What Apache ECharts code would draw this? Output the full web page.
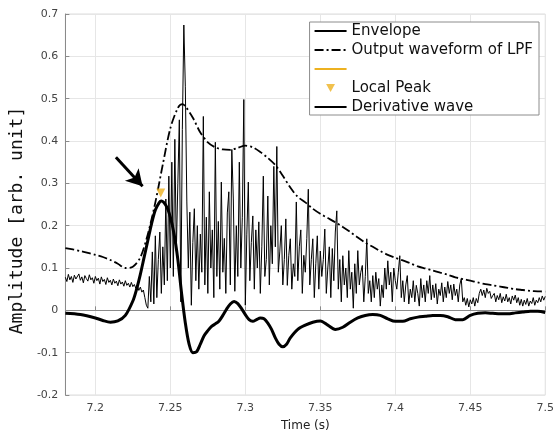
<!DOCTYPE html>
<html>
<head>
<meta charset="UTF-8">
<script src="https://cdn.jsdelivr.net/npm/echarts@6/dist/echarts.min.js"></script>
<style>
  html, body { margin: 0; padding: 0; background: #fff; }
  #chart { width: 557px; height: 437px; }
</style>
</head>
<body>
<div id="chart"></div>
<script>
// envelope: sampled every 1 ms starting at 7.180 s
var envStart = 7.18;
var envStep = 0.001;
var envValues = [
  0.078, 0.068, 0.085, 0.072, 0.080, 0.066, 0.083, 0.074, 0.070, 0.086,
  0.071, 0.079, 0.065, 0.082, 0.075, 0.069, 0.084, 0.072, 0.077, 0.064,
  0.080, 0.070, 0.076, 0.062, 0.079, 0.068, 0.073, 0.061, 0.077, 0.066,
  0.071, 0.060, 0.074, 0.064, 0.069, 0.058, 0.072, 0.062, 0.067, 0.057,
  0.070, 0.059, 0.064, 0.055, 0.066, 0.056, 0.061, 0.052, 0.058, 0.047,
  0.055, 0.043, 0.048, 0.030, 0.012, 0.005, 0.080, 0.020, 0.138, 0.015,
  0.176, 0.030, 0.120, 0.185, 0.040, 0.150, 0.060, 0.263, 0.070, 0.317,
  0.100, 0.350, 0.080, 0.404, 0.140, 0.300, 0.450, 0.020, 0.427, 0.674,
  0.528, 0.256, 0.100, 0.232, 0.012, 0.160, 0.240, 0.070, 0.200, 0.050,
  0.180, 0.090, 0.458, 0.060, 0.220, 0.040, 0.280, 0.100, 0.190, 0.030,
  0.397, 0.080, 0.210, 0.050, 0.303, 0.090, 0.170, 0.040, 0.230, 0.280,
  0.060, 0.380, 0.263, 0.045, 0.200, 0.080, 0.350, 0.100, 0.220, 0.498,
  0.012, 0.180, 0.303, 0.070, 0.160, 0.223, 0.050, 0.190, 0.100, 0.209,
  0.040, 0.150, 0.317, 0.080, 0.120, 0.270, 0.060, 0.200, 0.110, 0.340,
  0.150, 0.387, 0.090, 0.140, 0.200, 0.060, 0.120, 0.216, 0.059, 0.130,
  0.169, 0.050, 0.110, 0.080, 0.256, 0.070, 0.150, 0.190, 0.040, 0.130,
  0.090, 0.170, 0.286, 0.060, 0.120, 0.169, 0.030, 0.110, 0.176, 0.050,
  0.140, 0.080, 0.120, 0.192, 0.040, 0.100, 0.150, 0.030, 0.146, 0.070,
  0.185, 0.235, 0.050, 0.120, 0.020, 0.129, 0.060, 0.100, 0.030, 0.141,
  0.050, 0.090, 0.005, 0.110, 0.040, 0.141, 0.060, 0.090, 0.106, 0.020,
  0.080, 0.169, 0.040, 0.070, 0.020, 0.082, 0.030, 0.090, 0.050, 0.075,
  0.010, 0.060, 0.030, 0.100, 0.050, 0.117, 0.060, 0.090, 0.020, 0.100,
  0.070, 0.050, 0.090, 0.129, 0.030, 0.070, 0.020, 0.060, 0.082, 0.015,
  0.050, 0.030, 0.070, 0.020, 0.059, 0.040, 0.010, 0.075, 0.030, 0.060,
  0.020, 0.070, 0.040, 0.082, 0.025, 0.060, 0.030, 0.063, 0.015, 0.050,
  0.035, 0.065, 0.020, 0.055, 0.030, 0.068, 0.040, 0.060, 0.025, 0.062,
  0.035, 0.050, 0.020, 0.060, 0.075, 0.020, 0.030, 0.012, 0.028, 0.008,
  0.025, 0.015, 0.030, 0.010, 0.028, 0.018, 0.040, 0.050, 0.035, 0.048,
  0.030, 0.052, 0.040, 0.045, 0.028, 0.035, 0.040, 0.020, 0.035, 0.025,
  0.040, 0.018, 0.032, 0.022, 0.038, 0.020, 0.030, 0.015, 0.034, 0.024,
  0.036, 0.018, 0.030, 0.012, 0.026, 0.010, 0.024, 0.014, 0.028, 0.010,
  0.022, 0.016, 0.030, 0.012, 0.024, 0.018, 0.030, 0.020, 0.034, 0.024,
  0.033
];

// low-pass filter output
var lpfTime = [
  7.180, 7.185, 7.190, 7.195, 7.200, 7.205, 7.210, 7.215, 7.220, 7.225,
  7.230, 7.235, 7.240, 7.245, 7.250, 7.255, 7.258, 7.260, 7.265, 7.270,
  7.275, 7.280, 7.285, 7.290, 7.295, 7.300, 7.305, 7.310, 7.315, 7.320,
  7.325, 7.330, 7.335, 7.340, 7.345, 7.350, 7.355, 7.360, 7.365, 7.370,
  7.375, 7.380, 7.385, 7.390, 7.395, 7.400, 7.405, 7.410, 7.415, 7.420,
  7.425, 7.430, 7.435, 7.440, 7.445, 7.450, 7.455, 7.460, 7.465, 7.470,
  7.475, 7.480, 7.485, 7.490, 7.495, 7.500
];
var lpfValues = [
  0.147, 0.144, 0.140, 0.136, 0.131, 0.126, 0.119, 0.110, 0.100, 0.103,
  0.125, 0.180, 0.255, 0.345, 0.430, 0.478, 0.487, 0.482, 0.455, 0.420,
  0.397, 0.385, 0.380, 0.379, 0.384, 0.389, 0.385, 0.374, 0.360, 0.343,
  0.318, 0.290, 0.268, 0.255, 0.240, 0.228, 0.218, 0.208, 0.197, 0.185,
  0.172, 0.160, 0.150, 0.140, 0.131, 0.124, 0.118, 0.111, 0.104, 0.099,
  0.094, 0.089, 0.084, 0.078, 0.074, 0.070, 0.066, 0.062, 0.059, 0.056,
  0.053, 0.050, 0.048, 0.046, 0.045, 0.044
];

// derivative wave
var derivTime = [
  7.180, 7.190, 7.200, 7.205, 7.210, 7.215, 7.220, 7.225, 7.2275, 7.230,
  7.2325, 7.235, 7.2375, 7.240, 7.2425, 7.244, 7.2475, 7.250, 7.2525, 7.255,
  7.2575, 7.260, 7.2625, 7.265, 7.2675, 7.270, 7.2725, 7.275, 7.2775, 7.280,
  7.2825, 7.285, 7.2875, 7.290, 7.2925, 7.295, 7.2975, 7.300, 7.3025, 7.305,
  7.3075, 7.310, 7.3125, 7.315, 7.3175, 7.320, 7.3225, 7.325, 7.3275, 7.330,
  7.335, 7.340, 7.345, 7.350, 7.355, 7.360, 7.365, 7.370, 7.375, 7.380,
  7.385, 7.390, 7.395, 7.400, 7.405, 7.410, 7.415, 7.420, 7.425, 7.430,
  7.435, 7.440, 7.445, 7.450, 7.455, 7.460, 7.465, 7.470, 7.475, 7.480,
  7.485, 7.490, 7.495, 7.500
];
var derivValues = [
  -0.007, -0.010, -0.018, -0.024, -0.028, -0.025, -0.012, 0.022, 0.050, 0.085,
  0.125, 0.165, 0.205, 0.237, 0.254, 0.258, 0.245, 0.220, 0.180, 0.120,
  0.040, -0.030, -0.080, -0.100, -0.098, -0.080, -0.060, -0.048, -0.038, -0.032,
  -0.025, -0.012, 0.003, 0.015, 0.021, 0.016, 0.004, -0.010, -0.022, -0.026,
  -0.022, -0.018, -0.020, -0.030, -0.045, -0.065, -0.080, -0.086, -0.080, -0.065,
  -0.045, -0.035, -0.028, -0.025, -0.035, -0.045, -0.040, -0.028, -0.018, -0.012,
  -0.010, -0.012, -0.020, -0.026, -0.026, -0.020, -0.016, -0.014, -0.012, -0.012,
  -0.015, -0.022, -0.022, -0.012, -0.007, -0.006, -0.007, -0.008, -0.008, -0.006,
  -0.004, -0.002, -0.002, -0.005
];

// local peak marker and arrow annotation
var peakPoint = [7.2436, 0.277];
var arrowTail = [7.2137, 0.3615];
var arrowHead = [7.2315, 0.293];

var xTickStep = 0.05;

function pairs(xs, ys) {
  var out = [];
  for (var i = 0; i < xs.length; i++) out.push([xs[i], ys[i]]);
  return out;
}
var envData = [];
for (var i = 0; i < envValues.length; i++) {
  envData.push([+(envStart + i * envStep).toFixed(3), envValues[i]]);
}

// line entries in the legend show only the line, no symbol
var noSymbol = { opacity: 0 };

var chart = echarts.init(document.getElementById('chart'));
var option = {
  animation: false,
  backgroundColor: '#fff',
  grid: {
    left: 62, right: 10, top: 14, bottom: 40,
    show: true, borderColor: '#dcdcdc', borderWidth: 1
  },
  legend: {
    orient: 'vertical',
    right: 18,
    top: 22,
    padding: [1, 6, 0, 4],
    itemGap: 3,
    itemWidth: 32,
    itemHeight: 8,
    backgroundColor: '#fff',
    borderColor: '#8c8c8c',
    borderWidth: 1,
    borderRadius: 0,
    textStyle: { fontFamily: 'DejaVu Sans', fontSize: 15, lineHeight: 16, color: '#111' },
    data: [
      { name: 'Envelope', itemStyle: noSymbol },
      { name: 'Output waveform of LPF', itemStyle: noSymbol },
      { name: ' ', itemStyle: noSymbol },
      { name: 'Local Peak', icon: 'path://M0,0 L10,0 L5,9 Z' },
      { name: 'Derivative wave', itemStyle: noSymbol }
    ]
  },
  xAxis: {
    type: 'value',
    min: 7.18,
    max: 7.5,
    minInterval: xTickStep,
    maxInterval: xTickStep,
    name: 'Time (s)',
    nameLocation: 'middle',
    nameGap: 25,
    nameTextStyle: { fontFamily: 'DejaVu Sans', fontSize: 12, color: '#222' },
    axisLine: { lineStyle: { color: '#8a8a8a' } },
    axisTick: { inside: true, length: 4, lineStyle: { color: '#8a8a8a' } },
    axisLabel: {
      fontFamily: 'DejaVu Sans', fontSize: 11, color: '#444', margin: 8,
      formatter: function (v) {
        var k = v / xTickStep;
        return Math.abs(k - Math.round(k)) < 1e-6 ? String(+v.toFixed(2)) : '';
      }
    },
    splitLine: { show: true, lineStyle: { color: '#e6e6e6' } }
  },
  yAxis: {
    type: 'value',
    min: -0.2,
    max: 0.7,
    interval: 0.1,
    name: 'Amplitude [arb. unit]',
    nameLocation: 'middle',
    nameGap: 33,
    nameTextStyle: {
      fontFamily: 'DejaVu Sans Mono', fontSize: 18, color: '#111',
      padding: [0, 32, 0, 0]
    },
    axisLine: { show: true, lineStyle: { color: '#8a8a8a' } },
    axisTick: { show: true, inside: true, length: 4, lineStyle: { color: '#8a8a8a' } },
    axisLabel: {
      fontFamily: 'DejaVu Sans', fontSize: 11, color: '#444', margin: 7,
      formatter: function (v) { return String(+v.toFixed(1)); }
    },
    splitLine: { show: true, lineStyle: { color: '#e6e6e6' } }
  },
  series: [
    {
      name: 'Envelope',
      type: 'line',
      showSymbol: false,
      symbol: 'none',
      data: envData,
      lineStyle: { color: '#000', width: 1 },
      itemStyle: { color: '#000' },
      z: 2
    },
    {
      name: 'Output waveform of LPF',
      type: 'line',
      showSymbol: false,
      symbol: 'none',
      smooth: 0.3,
      data: pairs(lpfTime, lpfValues),
      lineStyle: { color: '#000', width: 1.8, type: [9, 3, 2, 3] },
      itemStyle: { color: '#000' },
      z: 3
    },
    {
      name: ' ',
      type: 'line',
      showSymbol: false,
      symbol: 'none',
      data: [],
      lineStyle: { color: '#EDB120', width: 0.8 },
      itemStyle: { color: '#EDB120' }
    },
    {
      name: 'Local Peak',
      type: 'scatter',
      symbol: 'triangle',
      symbolRotate: 180,
      symbolSize: 9,
      data: [peakPoint],
      itemStyle: { color: '#EDB120' },
      z: 5
    },
    {
      name: 'Derivative wave',
      type: 'line',
      showSymbol: false,
      symbol: 'none',
      smooth: 0.3,
      data: pairs(derivTime, derivValues),
      lineStyle: { color: '#000', width: 3 },
      itemStyle: { color: '#000' },
      z: 4,
      markLine: {
        silent: true,
        symbol: ['none', 'arrow'],
        symbolSize: [14, 16],
        label: { show: false },
        lineStyle: { color: '#000', width: 3, type: 'solid' },
        data: [[{ coord: arrowTail }, { coord: arrowHead }]]
      }
    }
  ]
};
chart.setOption(option);
</script>
</body>
</html>
